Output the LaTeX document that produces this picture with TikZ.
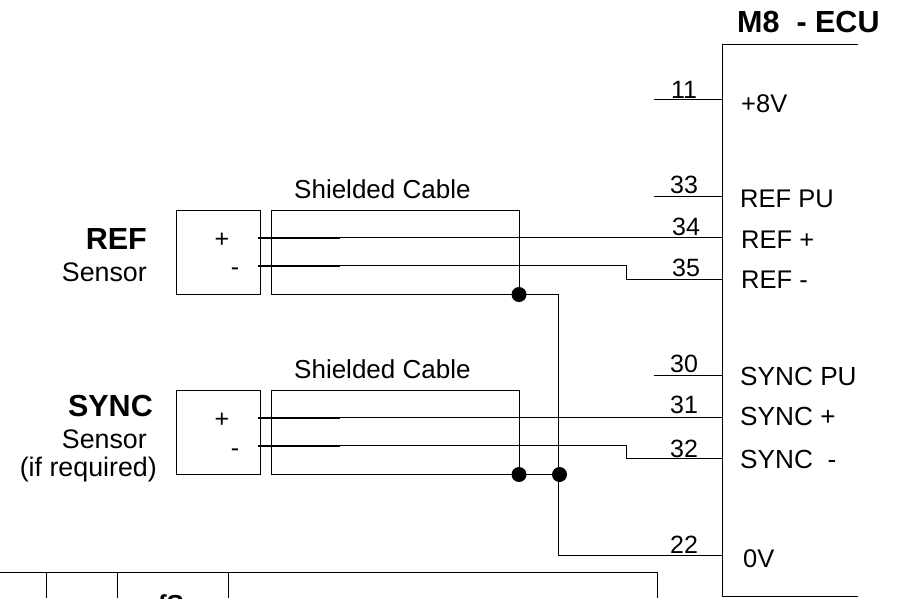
\documentclass[tikz,border=0pt]{standalone}
\usepackage{fontspec}
\setmainfont{Liberation Sans}
\newcommand{\fsz}[1]{\fontsize{#1}{#1}\selectfont}
\tikzset{
  x=1pt,y=-1pt,
  wire/.style={line width=1.6pt,draw=black},
  wirebold/.style={line width=2pt,draw=black},
  boxnode/.style={draw=black,line width=1.8pt,inner sep=0pt,outer sep=0pt,minimum height=84pt,fill=none},
  dotnode/.style={circle,fill=black,inner sep=0pt,minimum size=15pt},
  lab/.style={inner sep=0pt,anchor=base west,font=\fsz{25.5}},
  slab/.style={inner sep=0pt,anchor=base west,font=\fsz{26.2}},
  clab/.style={inner sep=0pt,anchor=base west,font=\fsz{26}},
  rlab/.style={inner sep=0pt,anchor=base east,font=\fsz{26.8}},
  blab/.style={inner sep=0pt,anchor=base east,font=\fsz{30.5}\bfseries},
  pin/.style={inner sep=0pt,anchor=base,font=\fsz{25}},
  sign/.style={inner sep=0pt,font=\fsz{25}}
}
\begin{document}
\begin{tikzpicture}
\useasboundingbox (0,0) rectangle (899,598);
% ECU
\coordinate (ecuTR) at (858,44.5);
\coordinate (ecuTL) at (722.5,44.5);
\coordinate (ecuBL) at (722.5,596.5);
\coordinate (ecuBR) at (858,596.5);
\draw[wire] (ecuTR) -- (ecuTL) -- (ecuBL) -- (ecuBR);
\node[inner sep=0pt,anchor=base west,font=\fsz{30.5}\bfseries] (ecutitle) at (737,32) {M8\space\space- ECU};
% boxes
\node[boxnode,minimum width=84pt,anchor=north west] (refsens) at (176.5,210.5) {};
\node[boxnode,minimum width=248pt,anchor=north west] (refshield) at (271.5,210.5) {};
\node[boxnode,minimum width=84pt,anchor=north west] (syncsens) at (176.5,390.5) {};
\node[boxnode,minimum width=248pt,anchor=north west] (syncshield) at (271.5,390.5) {};
% pin coordinates
\foreach \n/\y in {p11/99.5,p33/196.5,p34/237.5,p35/279.5,p30/375.5,p31/417.5,p32/458.5,p22/555.5}{
  \coordinate (\n) at (722,\y);
}
\foreach \n/\y in {s11/99.5,s33/196.5,s30/375.5}{
  \coordinate (\n) at (654,\y);
}
\draw[wire] (s11) -- (p11);
\draw[wire] (s33) -- (p33);
\draw[wire] (s30) -- (p30);
% wires
\coordinate (rp) at (258,237.5);
\coordinate (rm) at (258,265.5);
\coordinate (sp) at (258,417.5);
\coordinate (sm) at (258,445.5);
\coordinate (rp2) at (340,237.5);
\coordinate (rm2) at (340,265.5);
\coordinate (sp2) at (340,417.5);
\coordinate (sm2) at (340,445.5);
\coordinate (rk1) at (626.5,265.5);
\coordinate (rk2) at (626.5,279.5);
\coordinate (sk1) at (626.5,445.5);
\coordinate (sk2) at (626.5,458.5);
\draw[wirebold] (rp) -- (rp2);
\draw[wirebold] (rm) -- (rm2);
\draw[wirebold] (sp) -- (sp2);
\draw[wirebold] (sm) -- (sm2);
\draw[wire] (rp2) -- (p34);
\draw[wire] (rm2) -- (rk1) -- (rk2) -- (p35);
\draw[wire] (sp2) -- (p31);
\draw[wire] (sm2) -- (sk1) -- (sk2) -- (p32);
% junctions
\node[dotnode] (j1) at (519,294.5) {};
\node[dotnode] (j2) at (519,474.5) {};
\node[dotnode] (j3) at (559.5,474.5) {};
\coordinate (b1) at (558.5,294.5);
\coordinate (b2) at (558.5,555.5);
\draw[wire] (j1.center) -- (b1) -- (b2) -- (p22);
\draw[wire] (j2.center) -- (j3.center);
% labels
\node[pin] (n11) at (684,98) {11};
\node[pin] (n33) at (684,193) {33};
\node[pin] (n34) at (686,235) {34};
\node[pin] (n35) at (686,276) {35};
\node[pin] (n30) at (684,372) {30};
\node[pin] (n31) at (684,413) {31};
\node[pin] (n32) at (684,457) {32};
\node[pin] (n22) at (684,553) {22};
\node[lab] (l8v) at (741,112) {+8V};
\node[lab] (lrefpu) at (740,207) {REF PU};
\node[lab] (lrefp) at (741,248) {REF +};
\node[lab] (lrefm) at (741,288) {REF -};
\node[slab] (lsyncpu) at (740,385) {SYNC PU};
\node[slab] (lsyncp) at (740,425) {SYNC +};
\node[slab] (lsyncm) at (740,468) {SYNC\space\space-};
\node[lab] (l0v) at (743,567) {0V};
\node[clab] (c1) at (294,198) {Shielded Cable};
\node[clab] (c2) at (294,378) {Shielded Cable};
\node[blab] (tref) at (147,249) {REF};
\node[rlab] (tsens1) at (147,281) {Sensor};
\node[blab] (tsync) at (153,416) {SYNC};
\node[rlab] (tsens2) at (147,448) {Sensor};
\node[rlab] (tif) at (157,476) {(if required)};
\node[sign] (sg1) at (222,240) {+};
\node[sign] (sg2) at (235,272) {-};
\node[sign] (sg3) at (222,420) {+};
\node[sign] (sg4) at (235,453) {-};
% bottom table
\coordinate (t0) at (0,572.5);
\coordinate (t1) at (657.5,572.5);
\coordinate (t1b) at (657.5,598);
\coordinate (v1) at (46.5,572.5);
\coordinate (v1b) at (46.5,598);
\coordinate (v2) at (117.5,572.5);
\coordinate (v2b) at (117.5,598);
\coordinate (v3) at (228.5,572.5);
\coordinate (v3b) at (228.5,598);
\draw[wire] (t0) -- (t1) -- (t1b);
\draw[wire] (v1) -- (v1b);
\draw[wire] (v2) -- (v2b);
\draw[wire] (v3) -- (v3b);
\node[inner sep=0pt,anchor=base,font=\fsz{26}\bfseries] (fs) at (171,613) {fS};
\end{tikzpicture}
\end{document}
